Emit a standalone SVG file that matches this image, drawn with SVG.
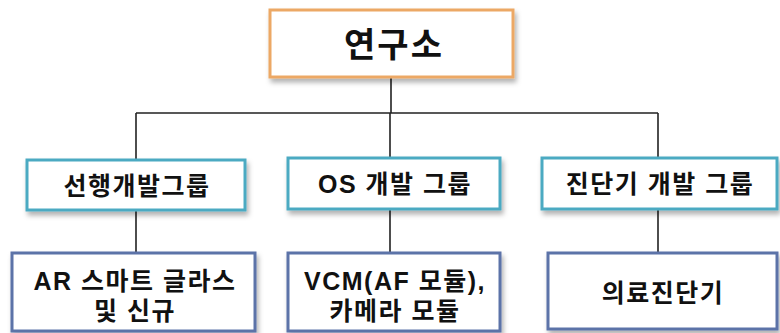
<svg xmlns="http://www.w3.org/2000/svg" width="780" height="333" viewBox="0 0 780 333">
<defs>
<filter id="sh" x="-10%" y="-20%" width="125%" height="150%">
<feDropShadow dx="2" dy="4" stdDeviation="2.5" flood-color="#000" flood-opacity="0.3"/>
</filter>
<style>
.top{fill:#fff;stroke:#ECA865;stroke-width:3}
.mid{fill:#fff;stroke:#4BAAC2;stroke-width:3}
.bot{fill:#fff;stroke:#5B73A8;stroke-width:3}
.t{font-family:"Liberation Sans","Noto Sans CJK KR",sans-serif;font-weight:bold;fill:#111;text-anchor:middle;font-size:25px;letter-spacing:1.5px}
.conn{stroke:#222;stroke-width:1.6;fill:none}
</style>
</defs>
<rect width="780" height="333" fill="#fff"/>
<g id="connectors">
<path class="conn" d="M391 77V113M136 113H658M136 113V161M390 113V158M658 113V158M136 211V254M390 210V253M658 209V253"/>
</g>
<g id="n0">
<rect class="top" x="270" y="10" width="243" height="67" filter="url(#sh)"/>
<text class="t" x="394" y="57" style="font-size:34px;letter-spacing:2px">연구소</text>
</g>
<g id="n1">
<rect class="mid" x="27" y="160" width="218" height="50" filter="url(#sh)"/>
<text class="t" x="137" y="195">선행개발그룹</text>
</g>
<g id="n2">
<rect class="mid" x="288" y="158" width="212" height="51" filter="url(#sh)"/>
<text class="t" x="395" y="193">OS 개발 그룹</text>
</g>
<g id="n3">
<rect class="mid" x="542" y="158" width="235" height="51" filter="url(#sh)"/>
<text class="t" x="660" y="193">진단기 개발 그룹</text>
</g>
<g id="n4">
<rect class="bot" x="12" y="253" width="243" height="78" filter="url(#sh)"/>
<text class="t" x="135" y="290">AR 스마트 글라스</text>
<text class="t" x="135" y="320">및 신규</text>
</g>
<g id="n5">
<rect class="bot" x="288" y="253" width="212" height="78" filter="url(#sh)"/>
<text class="t" x="395" y="290">VCM(AF 모듈),</text>
<text class="t" x="395" y="320">카메라 모듈</text>
</g>
<g id="n6">
<rect class="bot" x="548" y="253" width="229" height="76" filter="url(#sh)"/>
<text class="t" x="663" y="302">의료진단기</text>
</g>
</svg>
